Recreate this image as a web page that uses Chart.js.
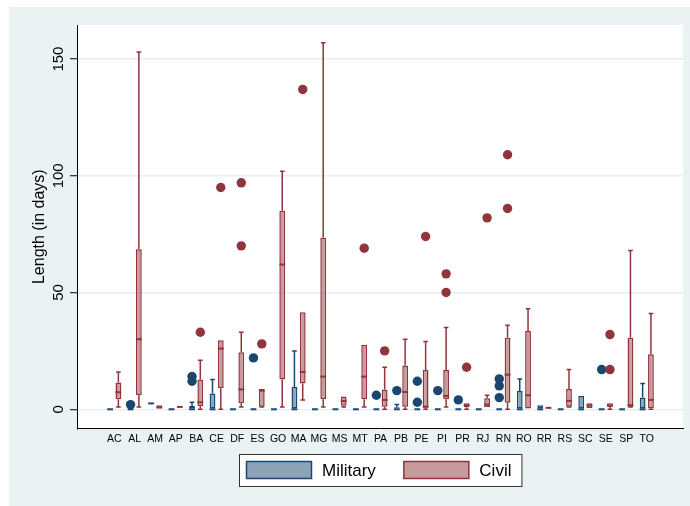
<!DOCTYPE html>
<html>
<head>
<meta charset="utf-8">
<script src="https://cdn.jsdelivr.net/npm/chart.js@4.4.1/dist/chart.umd.min.js"></script>
<style>
  html, body { margin: 0; padding: 0; background: #fff; }
  #wrap { width: 690px; height: 506px; }
</style>
</head>
<body>
<div id="wrap"><canvas id="chart" width="690" height="506"></canvas></div>
<script>
const states = ["AC", "AL", "AM", "AP", "BA", "CE", "DF", "ES", "GO", "MA", "MG", "MS", "MT", "PA",
  "PB", "PE", "PI", "PR", "RJ", "RN", "RO", "RR", "RS", "SC", "SE", "SP", "TO"];
const yTicks = [0, 50, 100, 150];

// per state: lower whisker, q1, median, q3, upper whisker
const militaryStats = [
  [0, 0, 0, 0, 0], [0, 0, 0, 0, 0], [2.5, 2.5, 2.5, 2.5, 2.5], [0, 0, 0, 0, 0],
  [0, 0, 0, 1.4, 3], [0, 0, 0, 6.7, 12.8], [0, 0, 0, 0, 0], [0, 0, 0, 0, 0],
  [0, 0, 0, 0, 0], [0, 0, 0, 9.5, 25], [0, 0, 0, 0, 0], [0, 0, 0, 0, 0],
  [0, 0, 0, 0, 0], [0, 0, 0, 0, 0], [0, 0, 0, 0.9, 2], [0, 0, 0, 0, 0],
  [0, 0, 0, 0, 0], [0, 0, 0, 0, 0], [0, 0, 0, 0, 0], [0, 0, 0, 0, 0],
  [0, 0, 0, 7.8, 13], [0, 0, 0, 1.7, 1.7], [0, 0, 0, 0, 0], [0, 0, 0, 5.7, 5.7],
  [0, 0, 0, 0, 0], [0, 0, 0, 0, 0], [0, 0, 0, 5, 11],
];
const militaryOutliers = [
  [], [2], [], [], [12, 14], [], [], [22], [], [], [], [], [], [6],
  [8], [12, 3], [8], [4], [], [13, 10, 5], [], [], [], [], [17], [], [],
];

const civilStats = [
  [1, 4.3, 7.3, 11.5, 16], [1, 6, 30, 68.5, 153], [0, 0, 0.8, 1.7, 1.7], [1, 1, 1, 1, 1],
  [0, 1.4, 3, 12.7, 21], [0, 9, 26, 29.6, 29.6], [1, 2.6, 8.5, 24.4, 33], [1, 1.1, 8, 8.7, 8.7],
  [1, 12.7, 62, 85, 102], [4, 11, 16, 41.6, 41.6], [1, 4.3, 14, 73.5, 157], [1, 1.5, 3.5, 5.5, 5.5],
  [1, 4.3, 14, 27.6, 27.6], [0, 1.1, 4, 8.5, 18], [0, 1.1, 7.4, 18.7, 30], [0, 0.6, 1.1, 16.8, 29],
  [1, 4.3, 5.7, 16.8, 35], [0, 0.9, 1.7, 2.6, 2.6], [1, 1, 2, 4.7, 6], [0, 2.8, 14.8, 30.6, 36],
  [0, 0, 6, 33.5, 43], [0.6, 0.6, 0.6, 0.6, 0.6], [1, 1.1, 3.6, 8.7, 17], [0.4, 0.4, 1.6, 2.6, 2.6],
  [0, 1.1, 1.5, 2.6, 2.6], [1, 1.1, 1.7, 30.6, 68], [0, 0.4, 4, 23.6, 41],
];
const civilOutliers = [
  [], [], [], [], [33], [95], [97, 70], [28], [], [137], [], [], [69], [25],
  [], [74], [58, 50], [18], [82], [109, 86], [], [], [], [], [32, 17], [], [],
];

const FONT = "'Liberation Sans', Arial, sans-serif";
const NAVY = "#1a476f";
const MAROON = "#90353b";

const backdrop = {
  id: "backdrop",
  beforeDraw(chart) {
    const {ctx, chartArea: a} = chart;
    ctx.save();
    ctx.fillStyle = "#eaf2f3";
    ctx.fillRect(9, 7, chart.width - 9, chart.height - 7);
    ctx.fillStyle = "#fff";
    ctx.fillRect(a.left, a.top, a.right - a.left, a.bottom - a.top);
    ctx.restore();
  },
};

// whiskers, medians and outside values on top of the floating bars
const boxParts = {
  id: "boxParts",
  afterDatasetsDraw(chart) {
    const {ctx} = chart;
    const ys = chart.scales.y;
    const py = v => ys.getPixelForValue(v);
    chart.data.datasets.forEach((ds, d) => {
      const meta = chart.getDatasetMeta(d);
      meta.data.forEach((bar, i) => {
        const [lo, q1, med, q3, hi] = ds.stats[i];
        const x = bar.x;
        const half = bar.width / 2;
        const cap = bar.width * 0.4;
        ctx.save();
        ctx.strokeStyle = ds.borderColor;
        ctx.lineWidth = 1.5;
        ctx.beginPath();
        if (hi > q3) {
          ctx.moveTo(x, py(q3));
          ctx.lineTo(x, py(hi));
          ctx.moveTo(x - cap, py(hi));
          ctx.lineTo(x + cap, py(hi));
        }
        if (lo < q1) {
          ctx.moveTo(x, py(q1));
          ctx.lineTo(x, py(lo));
          ctx.moveTo(x - cap, py(lo));
          ctx.lineTo(x + cap, py(lo));
        }
        ctx.stroke();
        ctx.lineWidth = 2;
        ctx.beginPath();
        ctx.moveTo(x - half, py(med));
        ctx.lineTo(x + half, py(med));
        ctx.stroke();
        ctx.fillStyle = ds.borderColor;
        ds.outliers[i].forEach(v => {
          ctx.beginPath();
          ctx.arc(x, py(v), 4.7, 0, Math.PI * 2);
          ctx.fill();
        });
        ctx.restore();
      });
    });
  },
};

// Stata writes the y labels turned upright
const yLabels = {
  id: "yLabels",
  afterDraw(chart) {
    const {ctx} = chart;
    const s = chart.scales.y;
    ctx.save();
    ctx.font = "15px " + FONT;
    ctx.fillStyle = "#000";
    ctx.textAlign = "center";
    ctx.textBaseline = "middle";
    s.ticks.forEach(t => {
      ctx.save();
      ctx.translate(s.right - 18, s.getPixelForValue(t.value));
      ctx.rotate(-Math.PI / 2);
      ctx.fillText(String(t.value), 0, 0);
      ctx.restore();
    });
    ctx.restore();
  },
};

const legendBox = {
  id: "legendBox",
  afterDraw(chart) {
    const {ctx, chartArea: a} = chart;
    const sw = 65, sh = 17, gapText = 10.5, gapItem = 28, padL = 7.5, padR = 10;
    ctx.save();
    ctx.font = "17px " + FONT;
    const items = chart.data.datasets.map(ds => ({ds, w: ctx.measureText(ds.label).width}));
    const total = padL + padR + items.reduce((s, it) => s + sw + gapText + it.w, 0)
      + gapItem * (items.length - 1);
    const left = Math.round((a.left + a.right) / 2 - total / 2);
    const top = 454, h = 32;
    ctx.fillStyle = "#fff";
    ctx.fillRect(left, top, total, h);
    ctx.strokeStyle = "#333";
    ctx.lineWidth = 1;
    ctx.strokeRect(left + 0.5, top + 0.5, total, h);
    let x = left + padL;
    const mid = top + h / 2;
    items.forEach(it => {
      ctx.fillStyle = it.ds.backgroundColor;
      ctx.fillRect(x, mid - sh / 2, sw, sh);
      ctx.strokeStyle = it.ds.borderColor;
      ctx.lineWidth = 1.5;
      ctx.strokeRect(x, mid - sh / 2, sw, sh);
      ctx.fillStyle = "#000";
      ctx.textBaseline = "middle";
      ctx.fillText(it.ds.label, x + sw + gapText, mid + 1);
      x += sw + gapText + it.w + gapItem;
    });
    ctx.restore();
  },
};

new Chart(document.getElementById("chart"), {
  type: "bar",
  data: {
    datasets: [
      {
        label: "Military",
        data: militaryStats.map((s, i) => ({x: i, y: [s[1], s[3]]})),
        stats: militaryStats,
        outliers: militaryOutliers,
        backgroundColor: "#8ca3b7",
        borderColor: NAVY,
        borderWidth: 1.5,
        borderSkipped: false,
      },
      {
        label: "Civil",
        data: civilStats.map((s, i) => ({x: i, y: [s[1], s[3]]})),
        stats: civilStats,
        outliers: civilOutliers,
        backgroundColor: "#c89a9d",
        borderColor: MAROON,
        borderWidth: 1.5,
        borderSkipped: false,
      },
    ],
  },
  options: {
    responsive: false,
    animation: false,
    categoryPercentage: 0.81,
    barPercentage: 0.7,
    layout: {padding: {top: 25, right: 7, left: 10, bottom: 57}},
    plugins: {legend: {display: false}, tooltip: {enabled: false}},
    scales: {
      x: {
        type: "linear",
        min: -1.27,
        max: 27.22,
        grid: {display: false, drawTicks: false, tickLength: 0},
        border: {color: "#000", width: 1},
        afterBuildTicks: s => { s.ticks = states.map((_, i) => ({value: i})); },
        ticks: {
          autoSkip: false,
          maxRotation: 0,
          padding: 4,
          color: "#000",
          font: {family: FONT, size: 10.5},
          callback: v => states[v],
        },
      },
      y: {
        min: -8.2,
        max: 164.6,
        afterBuildTicks: s => { s.ticks = yTicks.map(v => ({value: v})); },
        grid: {color: "#e6eff1", lineWidth: 1.5, tickLength: 7, tickColor: "#000", tickWidth: 1},
        border: {color: "#000", width: 1},
        ticks: {display: false},
        title: {
          display: true,
          text: "Length (in days)",
          color: "#000",
          font: {family: FONT, size: 16},
          padding: {top: 20.4, bottom: 20.4},
        },
      },
    },
  },
  plugins: [backdrop, boxParts, yLabels, legendBox],
});
</script>
</body>
</html>
